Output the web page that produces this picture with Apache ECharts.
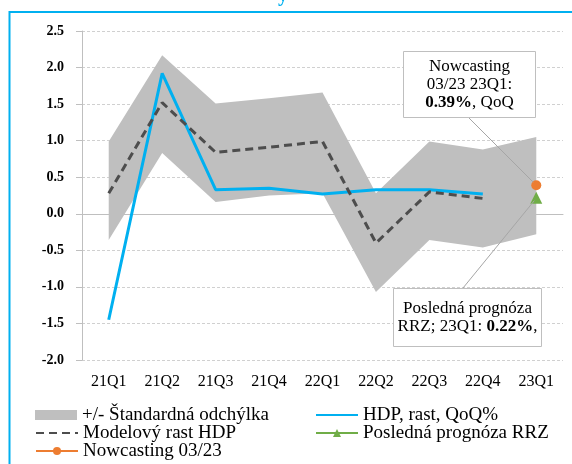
<!DOCTYPE html>
<html>
<head>
<meta charset="utf-8">
<script src="https://cdn.jsdelivr.net/npm/echarts@6/dist/echarts.min.js"></script>
<style>html,body{margin:0;padding:0;background:#fff}#c{width:572px;height:464px}</style>
</head>
<body>
<div id="c"></div>
<script>
const categories = ['21Q1','21Q2','21Q3','21Q4','22Q1','22Q2','22Q3','22Q4','23Q1'];
const hdpGrowth = [-1.45, 1.92, 0.33, 0.35, 0.27, 0.33, 0.33, 0.27, null];
const modelGrowth = [0.28, 1.52, 0.84, 0.91, 0.99, -0.40, 0.30, 0.21, null];
const bandUpper = [0.99, 2.17, 1.51, 1.58, 1.66, 0.28, 0.99, 0.88, 1.05];
const bandLower = [-0.36, 0.83, 0.16, 0.25, 0.28, -1.07, -0.36, -0.46, -0.28];
const nowcast = [null, null, null, null, null, null, null, null, 0.39];
const rrzForecast = [null, null, null, null, null, null, null, null, 0.22];
const yTicks = {min: -2.0, max: 2.5, interval: 0.5};

const bandWidth = bandUpper.map((u, i) => +(u - bandLower[i]).toFixed(2));
const FONT = 'Liberation Serif';
const N_BAND = '+/- Štandardná odchýlka';
const N_MODEL = 'Modelový rast HDP';
const N_NOW = 'Nowcasting 03/23';
const N_HDP = 'HDP, rast, QoQ%';
const N_RRZ = 'Posledná prognóza RRZ';

function legendAt(left, top, item) {
  return {left: left, top: top, orient: 'horizontal', itemWidth: 42, itemHeight: 10,
          textStyle: {fontFamily: FONT, fontSize: 19, color: '#000', lineHeight: 19},
          data: [item]};
}

const chart = echarts.init(document.getElementById('c'));
const option = {
  animation: false,
  backgroundColor: '#fff',
  grid: {left: 82, right: 9, top: 31, bottom: 104, containLabel: false},
  legend: [
    legendAt(30, 400.5, {name: N_BAND, icon: 'rect'}),
    legendAt(30, 418.5, {name: N_MODEL, itemStyle: {opacity: 0}}),
    legendAt(30, 436.5, N_NOW),
    legendAt(310, 400.5, {name: N_HDP, itemStyle: {opacity: 0}}),
    legendAt(310, 418.5, N_RRZ)
  ],
  xAxis: [
    {type: 'category', data: categories, boundaryGap: true, position: 'bottom',
     axisLine: {show: false, onZero: false}, axisTick: {show: false},
     axisLabel: {fontFamily: FONT, fontSize: 16, color: '#000', margin: 14},
     splitLine: {show: false}},
    {type: 'category', data: categories, boundaryGap: true, position: 'top',
     axisLine: {show: true, onZero: true, lineStyle: {color: '#BFBFBF', width: 1}},
     axisTick: {show: false}, axisLabel: {show: false}, splitLine: {show: false}}
  ],
  yAxis: {
    type: 'value', min: yTicks.min, max: yTicks.max, interval: yTicks.interval,
    axisLine: {show: true, lineStyle: {color: '#BFBFBF', width: 1}},
    axisTick: {show: true, length: 6, lineStyle: {color: '#BFBFBF'}},
    axisLabel: {fontFamily: FONT, fontSize: 14, fontWeight: 'bold', color: '#000', margin: 18,
                padding: [4, 0, 0, 0], formatter: v => v.toFixed(1)},
    splitLine: {show: true, lineStyle: {color: '#D0D0D0', type: [3, 2], width: 1}}
  },
  series: [
    {name: 'lower', type: 'line', data: bandLower, stack: 'band', stackStrategy: 'all',
     symbol: 'none', lineStyle: {opacity: 0}, silent: true, z: 2},
    {name: N_BAND, type: 'line', data: bandWidth, stack: 'band', stackStrategy: 'all',
     symbol: 'none', lineStyle: {opacity: 0}, itemStyle: {color: '#BFBFBF'},
     areaStyle: {color: '#BFBFBF', opacity: 1}, silent: true, z: 2},
    {name: N_MODEL, type: 'line', data: modelGrowth, symbol: 'none',
     lineStyle: {color: '#4D4D4D', width: 3, type: [8, 5]}, itemStyle: {color: '#4D4D4D'}, z: 4},
    {name: N_HDP, type: 'line', data: hdpGrowth, symbol: 'none',
     lineStyle: {color: '#00B0F0', width: 3}, itemStyle: {color: '#00B0F0'}, z: 3},
    {name: N_RRZ, type: 'line', data: rrzForecast, symbol: 'triangle', symbolSize: 12,
     lineStyle: {color: '#70AD47', width: 3}, itemStyle: {color: '#70AD47'}, z: 5},
    {name: N_NOW, type: 'line', data: nowcast, symbol: 'circle', symbolSize: 10,
     lineStyle: {color: '#ED7D31', width: 3}, itemStyle: {color: '#ED7D31'}, z: 6}
  ]
};
chart.setOption(option);

const pNow = chart.convertToPixel({xAxisIndex: 0, yAxisIndex: 0}, [categories.length - 1, nowcast[8]]);
const pRrz = chart.convertToPixel({xAxisIndex: 0, yAxisIndex: 0}, [categories.length - 1, rrzForecast[8]]);

const rich = {
  n: {fontFamily: FONT, fontSize: 17, color: '#000', lineHeight: 18},
  b: {fontFamily: FONT, fontSize: 17, color: '#000', fontWeight: 'bold', lineHeight: 18}
};
chart.setOption({
  graphic: [
    {type: 'rect', shape: {x: 9.5, y: 12, width: 700, height: 600},
     style: {fill: 'none', stroke: '#00B0F0', lineWidth: 2}, z: 100},
    {type: 'text', left: 278, top: -14,
     style: {text: 'y', fill: '#00B0F0', font: 'bold 20px "Liberation Serif"'}, z: 100},
    {type: 'line', shape: {x1: 469, y1: 118, x2: pNow[0] - 3, y2: pNow[1] - 3},
     style: {stroke: '#A6A6A6', lineWidth: 1}, z: 50},
    {type: 'line', shape: {x1: 463, y1: 288, x2: pRrz[0] - 2, y2: pRrz[1] + 3},
     style: {stroke: '#A6A6A6', lineWidth: 1}, z: 50},
    {type: 'rect', shape: {x: 403.5, y: 51.5, width: 132, height: 66},
     style: {fill: '#fff', stroke: '#BFBFBF', lineWidth: 1}, z: 60},
    {type: 'text', x: 469.5, y: 85, z: 61,
     style: {text: '{n|Nowcasting}\n{n|03/23 23Q1:}\n{b|0.39%}{n|, QoQ}', rich: rich,
             align: 'center', verticalAlign: 'middle'}},
    {type: 'rect', shape: {x: 393.5, y: 288.5, width: 148, height: 58},
     style: {fill: '#fff', stroke: '#BFBFBF', lineWidth: 1}, z: 60},
    {type: 'text', x: 467.5, y: 318, z: 61,
     style: {text: '{n|Posledná prognóza}\n{n|RRZ; 23Q1: }{b|0.22%}{n|,}', rich: rich,
             align: 'center', verticalAlign: 'middle'}}
  ]
});
</script>
</body>
</html>
